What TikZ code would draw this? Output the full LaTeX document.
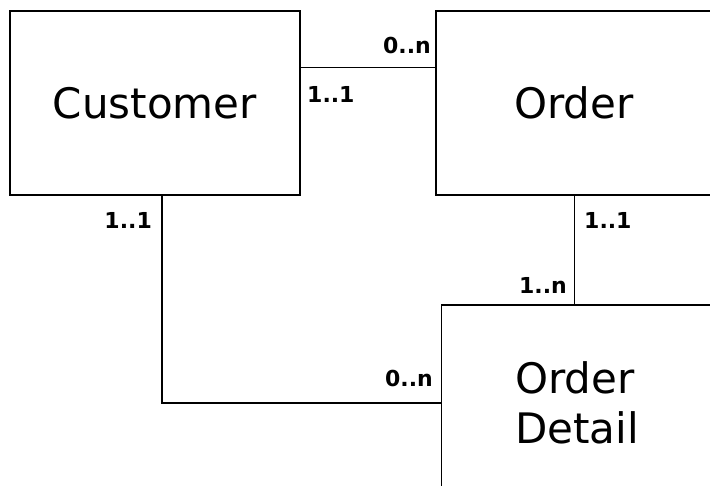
\documentclass[tikz,border=0pt]{standalone}
\usepackage{fontspec}
\setmainfont{DejaVu Sans}
\usetikzlibrary{positioning}
\tikzset{
x=1pt, y=-1pt, % one unit is one pixel of the picture
entity/.style={draw, line width=1.2pt, font=\fontsize{42}{50}\selectfont, inner sep=0pt}, % the boxes
mult/.style={font=\bfseries\fontsize{22}{24}\selectfont, inner sep=0pt}, % multiplicities
link/.style={line width=1.1pt}, % the connectors
}
\begin{document}
\begin{tikzpicture}
    \useasboundingbox (0,0) rectangle (710,486);
    \node[entity, minimum width=290pt, minimum height=184pt] (cust) at (155,103) {Customer};
    \node[entity, minimum width=276pt, minimum height=184pt] (order) at (574,103) {Order};
    \node[entity, minimum width=271pt, minimum height=196pt, align=left] (detail) at (577,403) {Order\\Detail};

  \draw[link] ([yshift=-57pt]cust.north east) -- ([yshift=-57pt]order.north west);
  \draw[link] ([xshift=7pt]cust.south) |- (detail.west);
  \draw[link, line width=0.8pt] (order.south) -- (order.south |- detail.north);

    \node[mult, anchor=east] (m1) at (431,45) {0..n};
    \node[mult, anchor=west] (m2) at (307,94) {1..1};
    \node[mult, anchor=east] (m3) at (152,220) {1..1};
    \node[mult, anchor=west] (m4) at (584,220) {1..1};
    \node[mult, anchor=east] (m5) at (567,285) {1..n};
    \node[mult, anchor=east] (m6) at (433,378) {0..n};
\end{tikzpicture}
\end{document}
